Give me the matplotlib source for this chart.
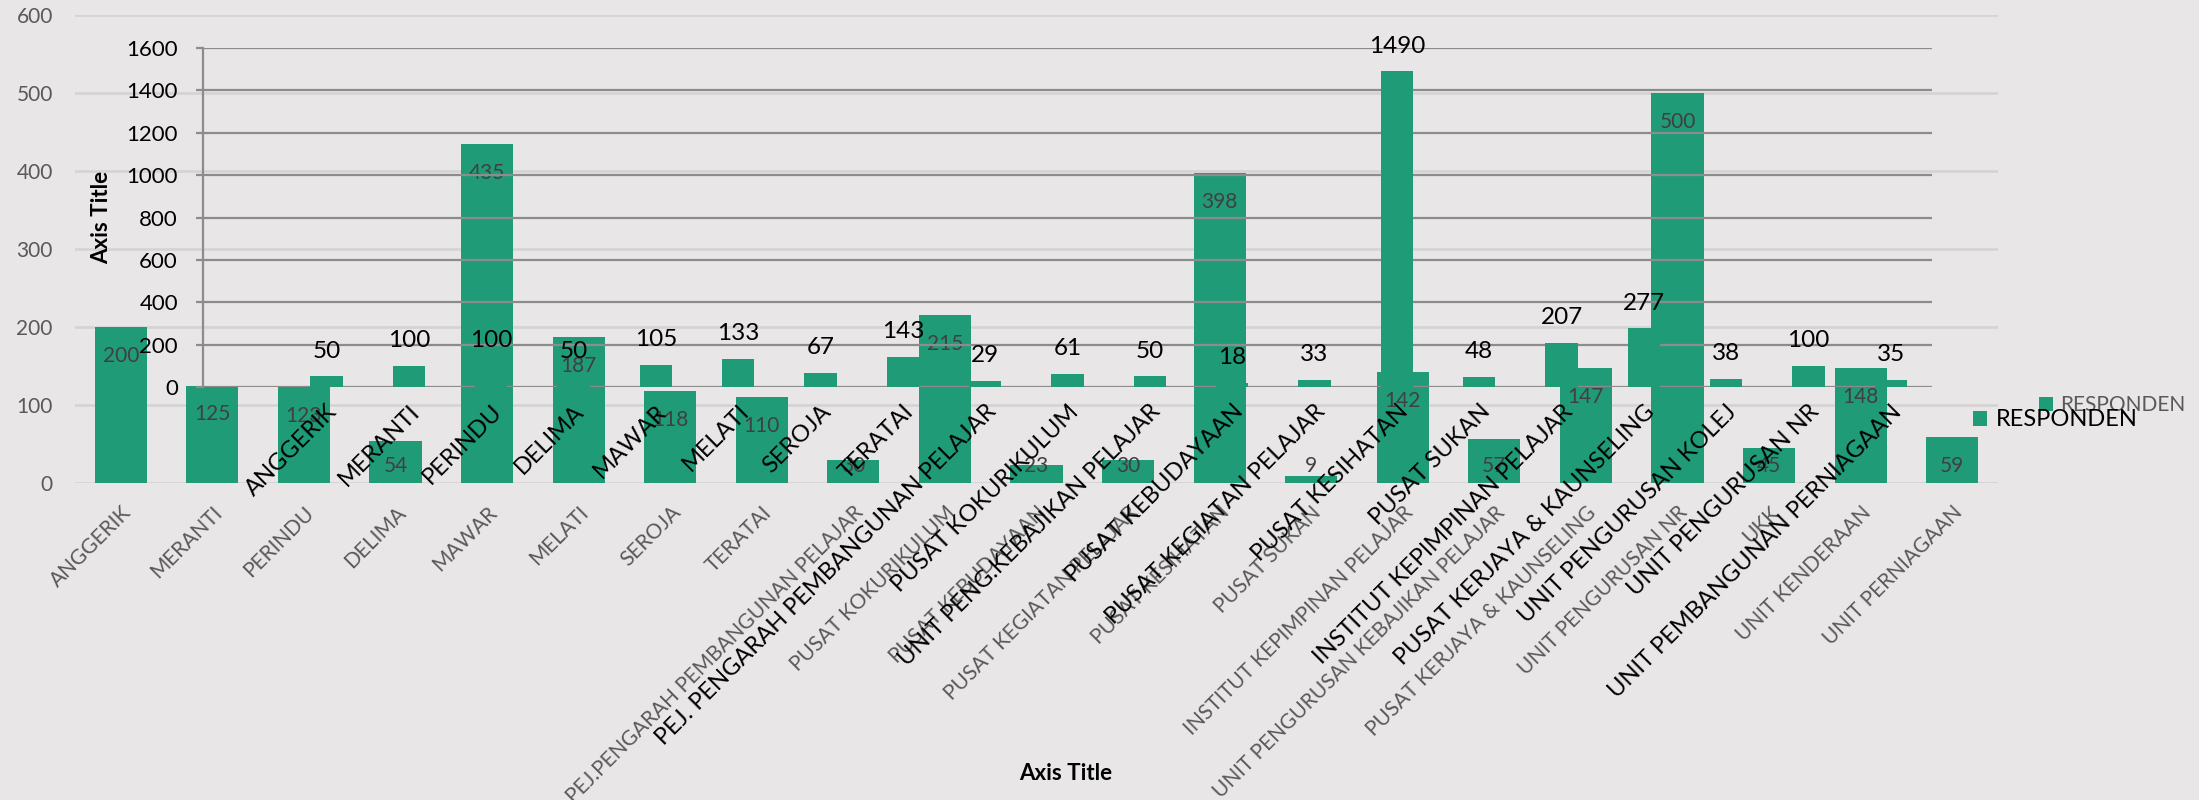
import numpy as np
import matplotlib
matplotlib.use("Agg")
import matplotlib.pyplot as plt

plt.rcParams['font.family'] = ['Lato', 'DejaVu Sans']

# ---------------- data: background chart (A) ----------------
cats_a = ["ANGGERIK", "MERANTI", "PERINDU", "DELIMA", "MAWAR", "MELATI", "SEROJA",
          "TERATAI", "PEJ.PENGARAH PEMBANGUNAN PELAJAR", "PUSAT KOKURIKULUM",
          "PUSAT KEBUDAYAAN", "PUSAT KEGIATAN PELAJAR", "PUSAT KESIHATAN", "PUSAT SUKAN",
          "INSTITUT KEPIMPINAN PELAJAR", "UNIT PENGURUSAN KEBAJIKAN PELAJAR",
          "PUSAT KERJAYA & KAUNSELING", "UNIT PENGURUSAN NR", "UKK", "UNIT KENDERAAN",
          "UNIT PERNIAGAAN"]
vals_a = [200, 125, 123, 54, 435, 187, 118, 110, 30, 215, 23, 30, 398, 9, 142, 57,
          147, 500, 45, 148, 59]
yticks_a = [0, 100, 200, 300, 400, 500, 600]

# ---------------- data: foreground chart (B) ----------------
cats_b = ["ANGGERIK", "MERANTI", "PERINDU", "DELIMA", "MAWAR", "MELATI", "SEROJA",
          "TERATAI", "PEJ. PENGARAH PEMBANGUNAN PELAJAR", "PUSAT KOKURIKULUM",
          "UNIT PENG.KEBAJIKAN PELAJAR", "PUSAT KEBUDAYAAN", "PUSAT KEGIATAN PELAJAR",
          "PUSAT KESIHATAN", "PUSAT SUKAN", "INSTITUT KEPIMPINAN PELAJAR",
          "PUSAT KERJAYA & KAUNSELING", "UNIT PENGURUSAN KOLEJ", "UNIT PENGURUSAN NR",
          "UNIT PEMBANGUNAN PERNIAGAAN"]
vals_b = [50, 100, 100, 50, 105, 133, 67, 143, 29, 61, 50, 18, 33, 1490, 48, 207,
          277, 38, 100, 35]
yticks_b = [0, 200, 400, 600, 800, 1000, 1200, 1400, 1600]

series_name = "RESPONDEN"
axis_title = "Axis Title"

# ---------------- style ----------------
W, H = 2199, 800
BG = '#e8e6e7'
GREEN = '#1f9c77'

fig = plt.figure(figsize=(W / 100, H / 100), dpi=100, facecolor=BG)

# ---- chart A (background) ----
axA = fig.add_axes([75 / W, 1 - 483 / H, (1998 - 75) / W, (483 - 15) / H])
axA.set_facecolor('none')
xa = np.arange(len(cats_a))
barsA = axA.bar(xa, vals_a, width=0.57, color=GREEN, zorder=2, label=series_name)
axA.set_xlim(-0.5, len(cats_a) - 0.5)
axA.set_ylim(0, 600)
axA.set_yticks(yticks_a)
axA.set_yticklabels([str(v) for v in yticks_a], color='#595959', fontsize=15)
axA.yaxis.grid(True, color='#d5d3d4', lw=2, zorder=0)
axA.set_axisbelow(True)
for s in axA.spines.values():
    s.set_visible(False)
axA.tick_params(axis='y', length=0, pad=16)
axA.tick_params(axis='x', length=0, pad=14)
axA.set_xticks(xa)
axA.set_xticklabels(cats_a, rotation=45, ha='right', va='top', rotation_mode='anchor',
                    color='#595959', fontsize=15)
# inside-end labels; kept inside the plot for short bars
px_per_unit = (483 - 15) / 600.0
inset_units = 35 / px_per_unit
floor_units = 11 / px_per_unit
for x, v in zip(xa, vals_a):
    axA.text(x, max(v - inset_units, floor_units), str(v), ha='center', va='baseline',
             color='#404040', fontsize=15, zorder=3)

# ---- chart B (foreground) ----
axB = fig.add_axes([203 / W, 1 - 387 / H, (1932 - 203) / W, (387 - 48) / H])
axB.set_facecolor('none')
xb = np.arange(1, len(cats_b) + 1)
barsB = axB.bar(xb, vals_b, width=0.39, color=GREEN, zorder=2, label=series_name)
axB.set_xlim(-0.5, len(cats_b) + 0.5)
axB.set_ylim(0, 1600)
axB.set_yticks(yticks_b)
axB.set_yticklabels([str(v) for v in yticks_b], color='black', fontsize=16)
axB.yaxis.grid(True, color='#8c8c8c', lw=1.6, zorder=0)
axB.set_axisbelow(True)
for k, s in axB.spines.items():
    s.set_visible(k == 'left')
axB.spines['left'].set_color('#8c8c8c')
axB.spines['left'].set_linewidth(1.6)
axB.tick_params(axis='y', length=5, width=1.6, color='#8c8c8c', pad=13)
axB.tick_params(axis='x', length=0, pad=10)
axB.set_xticks(xb)
axB.set_xticklabels(cats_b, rotation=45, ha='right', va='top', rotation_mode='anchor',
                    color='black', fontsize=17)
for x, v in zip(xb, vals_b):
    axB.annotate(str(v), (x, v), xytext=(0, 13.5), textcoords='offset points',
                 ha='center', va='baseline', color='black', fontsize=17.5, zorder=3)

# legends (figure level)
legA = fig.legend(handles=[barsA], labels=[series_name], loc='center left',
                  bbox_to_anchor=(2039 / W, 1 - 405 / H),
                  frameon=False, fontsize=15, handlelength=0.67, handleheight=0.67,
                  handletextpad=0.34, borderpad=0, borderaxespad=0)
for t in legA.get_texts():
    t.set_color('#595959')
legB = fig.legend(handles=[barsB], labels=[series_name], loc='center left',
                  bbox_to_anchor=(1973 / W, 1 - 420 / H),
                  frameon=False, fontsize=17, handlelength=0.6, handleheight=0.6,
                  handletextpad=0.38, borderpad=0, borderaxespad=0)

# axis titles
fig.text(102 / W, 1 - 217 / H, axis_title, rotation=90, ha='center', va='center',
         fontsize=16, fontweight='bold', color='black')
fig.text(1066 / W, 1 - 773 / H, axis_title, ha='center', va='center',
         fontsize=16, fontweight='bold', color='black')

fig.savefig('out.png', dpi=100, facecolor=BG)
